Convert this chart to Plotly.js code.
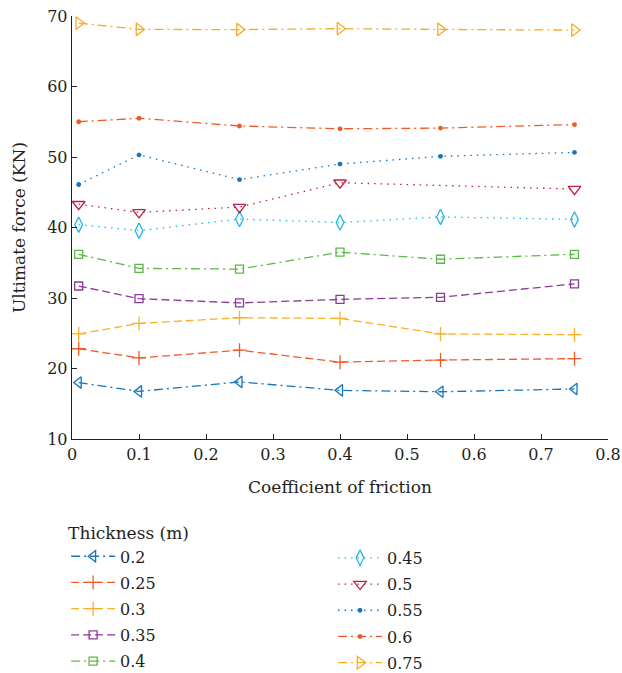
<!DOCTYPE html>
<html><head><meta charset="utf-8">
<script src="https://cdn.plot.ly/plotly-3.0.1.min.js"></script>
<style>html,body{margin:0;padding:0;background:#fff;}</style>
</head><body><div id="chart" style="width:622px;height:673px;"></div>
<script>
const friction = [0.01, 0.1, 0.25, 0.4, 0.55, 0.75];
const thicknessLabels = ['0.2', '0.25', '0.3', '0.35', '0.4', '0.45', '0.5', '0.55', '0.6', '0.75'];
const force_0_2  = [18.0, 16.75, 18.1, 16.9, 16.7, 17.1];
const force_0_25 = [22.8, 21.5, 22.6, 20.9, 21.2, 21.4];
const force_0_3  = [24.9, 26.4, 27.2, 27.1, 24.9, 24.8];
const force_0_35 = [31.7, 29.9, 29.3, 29.8, 30.1, 32.0];
const force_0_4  = [36.2, 34.2, 34.1, 36.5, 35.5, 36.2];
const force_0_45 = [40.4, 39.55, 41.2, 40.7, 41.5, 41.15];
const force_0_5  = [43.3, 42.15, 42.9, 46.35, null, 45.45];
const force_0_55 = [46.1, 50.3, 46.8, 49.0, 50.1, 50.65];
const force_0_6  = [55.0, 55.5, 54.4, 54.0, 54.1, 54.6];
const force_0_75 = [69.0, 68.1, 68.07, 68.2, 68.1, 68.0];

const seriesValues = [force_0_2, force_0_25, force_0_3, force_0_35, force_0_4,
                      force_0_45, force_0_5, force_0_55, force_0_6, force_0_75];

const DASHED = '8px,4px';
const DASHDOT = '9px,4px,2px,4px';
const DOTTED = '1.5px,5px';
const styles = [
  {color: '#1576BF', dash: DASHDOT, symbol: 'triangle-left-open', size: 10},
  {color: '#F05A28', dash: DASHED, symbol: 'cross-thin-open', size: 10},
  {color: '#FBAF2B', dash: DASHED, symbol: 'cross-thin-open', size: 10},
  {color: '#8B3A96', dash: DASHED, symbol: 'square-open', size: 8},
  {color: '#5CB848', dash: DASHDOT, symbol: 'square-open', size: 8},
  {color: '#25B6E8', dash: DOTTED, symbol: 'diamond-tall-open', size: 11},
  {color: '#C0203F', dash: DOTTED, symbol: 'triangle-down-open', size: 11},
  {color: '#1776BF', dash: DOTTED, symbol: 'circle', size: 3.5},
  {color: '#F05A28', dash: DASHDOT, symbol: 'circle', size: 3.5},
  {color: '#F9AA23', dash: DASHDOT, symbol: 'triangle-right-open', size: 11}
];

const traces = seriesValues.map((vals, i) => ({
  type: 'scatter',
  mode: 'lines+markers',
  x: friction,
  y: vals,
  name: thicknessLabels[i],
  legendgroup: 'g' + i,
  connectgaps: true,
  cliponaxis: false,
  legend: i < 5 ? 'legend' : 'legend2',
  line: {color: styles[i].color, width: 1.3, dash: styles[i].dash},
  marker: {symbol: styles[i].symbol, size: styles[i].size, color: styles[i].color,
           line: {color: styles[i].color, width: 1.3}}
}));

const FONT = "DejaVu Serif";
const INK = '#231F20';
const layout = {
  width: 622, height: 673,
  margin: {l: 72, r: 14, t: 16, b: 234, autoexpand: false},
  paper_bgcolor: '#fff', plot_bgcolor: '#fff',
  font: {family: FONT, size: 17, color: INK},
  showlegend: true,
  xaxis: {
    range: [0, 0.8], dtick: 0.1, tick0: 0,
    ticks: 'inside', ticklen: 5, tickwidth: 1, tickcolor: INK,
    showline: true, linecolor: INK, linewidth: 1.3,
    showgrid: false, zeroline: false,
    tickfont: {family: FONT, size: 16, color: INK},
    title: {text: 'Coefficient of friction', font: {family: FONT, size: 17, color: INK}, standoff: 18}
  },
  yaxis: {
    range: [10, 70], dtick: 10, tick0: 10,
    ticks: 'inside', ticklen: 5, tickwidth: 1, tickcolor: INK,
    showline: true, linecolor: INK, linewidth: 1.3,
    showgrid: false, zeroline: false,
    tickfont: {family: FONT, size: 16, color: INK},
    title: {text: 'Ultimate force (KN)', font: {family: FONT, size: 17, color: INK}, standoff: 17}
  },
  legend: {
    x: -0.011, xanchor: 'left', y: -0.185, yanchor: 'top',
    title: {text: 'Thickness (m)', font: {family: FONT, size: 17, color: INK}},
    font: {family: FONT, size: 16, color: INK},
    bgcolor: 'rgba(0,0,0,0)', itemwidth: 44, tracegroupgap: 2.4
  },
  legend2: {
    x: 0.487, xanchor: 'left', y: -0.241, yanchor: 'top',
    font: {family: FONT, size: 16, color: INK},
    bgcolor: 'rgba(0,0,0,0)', itemwidth: 44, tracegroupgap: 2.4
  }
};

Plotly.newPlot('chart', traces, layout, {displayModeBar: false, staticPlot: true});
</script>
</body></html>
